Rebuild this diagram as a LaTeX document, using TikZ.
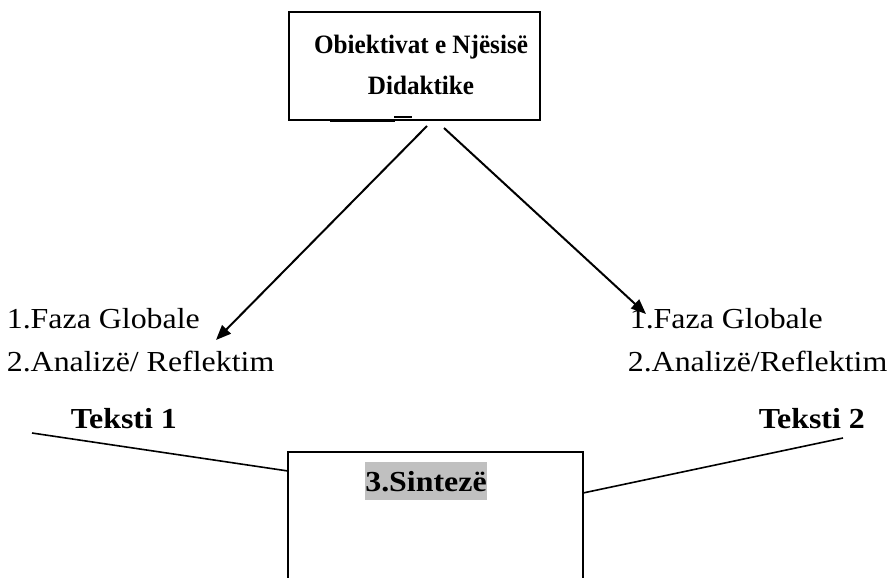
\documentclass[tikz,border=0pt]{standalone}
\usepackage{fontspec}
\setmainfont[FakeStretch=1.1]{Liberation Serif}
\newfontfamily\titlefont[FakeStretch=0.95]{Liberation Serif}
\usetikzlibrary{arrows.meta}
\definecolor{hilite}{HTML}{C0C0C0}

\begin{document}
\begin{tikzpicture}[x=1pt, y=-1pt, line width=1.6pt,
	arr/.style={-{Triangle[length=15pt,width=12pt]}, line width=2pt},
	txt/.style={inner sep=0pt, anchor=base west, font=\fontsize{29}{34}\selectfont},
	bold/.style={txt, font=\fontsize{29}{34}\selectfont\bfseries},
	title/.style={inner sep=0pt, anchor=base, font=\titlefont\fontsize{26.5}{31}\selectfont\bfseries}]
	\useasboundingbox (0,0) rectangle (887,578);
	% top box
	\node [draw, line width=2pt, minimum width=251pt, minimum height=108pt, inner sep=0pt] (obj) at (414.5,66) {};
	\node [title] (obj1) at (421,54) {Obiektivat e Njësisë};
	\node [title] (obj2) at (421,95) {Didaktike};
	\draw [line width=2.4pt] (330,121) -- (395,121);
	\draw [line width=2.4pt] (394,117) -- (412,117);
	% left side
	\node [txt] (fl) at (6,328) {1.Faza Globale};
	\node [txt] (al) at (6,371) {2.Analizë/ Reflektim};
	\node [bold] (t1) at (70,428) {Teksti 1};
	% right side
	\node [txt] (fr) at (629,328) {1.Faza Globale};
	\node [txt] (ar) at (627,371) {2.Analizë/Reflektim};
	\node [bold] (t2) at (758,428) {Teksti 2};
	% arrows
	\coordinate (s1) at (427,126);
	\coordinate (e1) at (216,340);
	\coordinate (s2) at (444,128);
	\coordinate (e2) at (646,314);
	\draw [arr] (s1) -- (e1);
	\draw [arr] (s2) -- (e2);
	% bottom box
	\coordinate (sbl) at (288,578);
	\coordinate (stl) at (288,452);
	\coordinate (str) at (583,452);
	\coordinate (sbr) at (583,578);
	\draw [line width=2pt] (sbl) -- (stl) -- (str) -- (sbr);
	\node [bold, anchor=base, fill=hilite, text height=29pt, text depth=9pt] (syn) at (426,491) {3.Sintezë};
	\coordinate (l1) at (32,433);
	\coordinate (jl) at (288,471);
	\coordinate (l2) at (843,438);
	\coordinate (jr) at (583,493);
	\draw (l1) -- (jl);
	\draw (jr) -- (l2);
\end{tikzpicture}
\end{document}
